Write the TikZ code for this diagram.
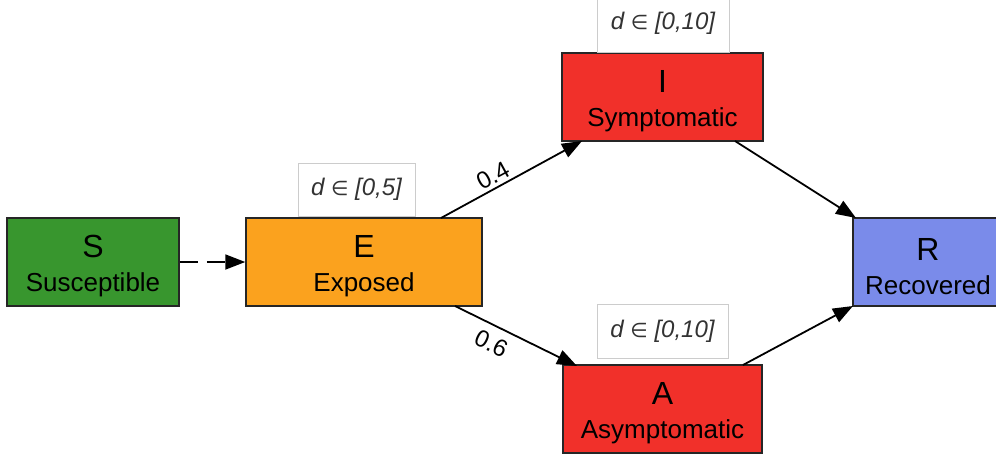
\documentclass[tikz,border=0pt]{standalone}
\usepackage{fontspec}
\setmainfont{Liberation Sans}
\newfontfamily\symfont{DejaVu Sans}
\usetikzlibrary{arrows.meta}
\definecolor{cS}{HTML}{38962E}
\definecolor{cE}{HTML}{FBA21E}
\definecolor{cI}{HTML}{F1302A}
\definecolor{cR}{HTML}{7A8BEA}
\newcommand{\statelet}[1]{\rule{0pt}{31pt}{\fontsize{32}{32}\selectfont #1}}
\newcommand{\elemsym}{{\symfont\fontsize{20}{24}\selectfont\upshape ∈}}
\begin{document}
\begin{tikzpicture}[x=1pt,y=-1pt,
  state/.style={draw=black!85,line width=1.5pt,inner sep=0pt,align=center,font=\fontsize{26}{28}\selectfont},
  durbox/.style={draw=black!20,line width=0.8pt,fill=white,inner sep=0pt,font=\fontsize{24}{26}\selectfont\itshape,text=black!80},
  flow/.style={line width=1.8pt,-{Triangle[length=20pt,width=15pt]}},
  prob/.style={font=\fontsize{24}{24}\selectfont,sloped,inner sep=1pt}]
\useasboundingbox (0,0) rectangle (996,456);
\begin{scope}
\clip (0,0) rectangle (996,456);
\node[state,fill=cS,minimum width=172pt,minimum height=88pt] (S) at (93,262) {\statelet{S}\\[6pt]Susceptible};
\node[state,fill=cE,minimum width=236pt,minimum height=88pt] (E) at (364,262) {\statelet{E}\\[6pt]Exposed};
\node[state,fill=cI,minimum width=201pt,minimum height=88pt] (I) at (662.5,97) {\statelet{I}\\[6pt]Symptomatic};
\node[state,fill=cI,minimum width=199pt,minimum height=88pt] (A) at (662.5,409) {\statelet{A}\\[6pt]Asymptomatic};
\node[state,fill=cR,minimum width=150pt,minimum height=88pt] (R) at (928,262) {\statelet{R}\\[6pt]Recovered};
\node[durbox,minimum width=117pt,minimum height=53pt] (dE) at (356.5,189.5) {d \elemsym{} [0,5]};
\node[durbox,minimum width=132pt,minimum height=58pt] (dI) at (663,23) {d \elemsym{} [0,10]};
\node[durbox,minimum width=131pt,minimum height=54pt] (dA) at (662.5,331) {d \elemsym{} [0,10]};
\coordinate (e1) at (441,218);
\coordinate (i1) at (582,141);
\coordinate (e2) at (455,306);
\coordinate (a1) at (577,366);
\coordinate (i2) at (735,141);
\coordinate (r1) at (856,218);
\coordinate (a2) at (743,365);
\coordinate (r2) at (853,306);
\draw[line width=1.8pt,dash pattern=on 18pt off 9pt,-{Triangle[length=20pt,width=15pt]}] (S.east) -- (E.west);
\draw[flow] (e1) -- node[prob,above=2pt,pos=0.41] {0.4} (i1);
\draw[flow] (e2) -- node[prob,below=7pt,pos=0.36] {0.6} (a1);
\draw[flow] (i2) -- (r1);
\draw[flow] (a2) -- (r2);
\end{scope}
\end{tikzpicture}
\end{document}
